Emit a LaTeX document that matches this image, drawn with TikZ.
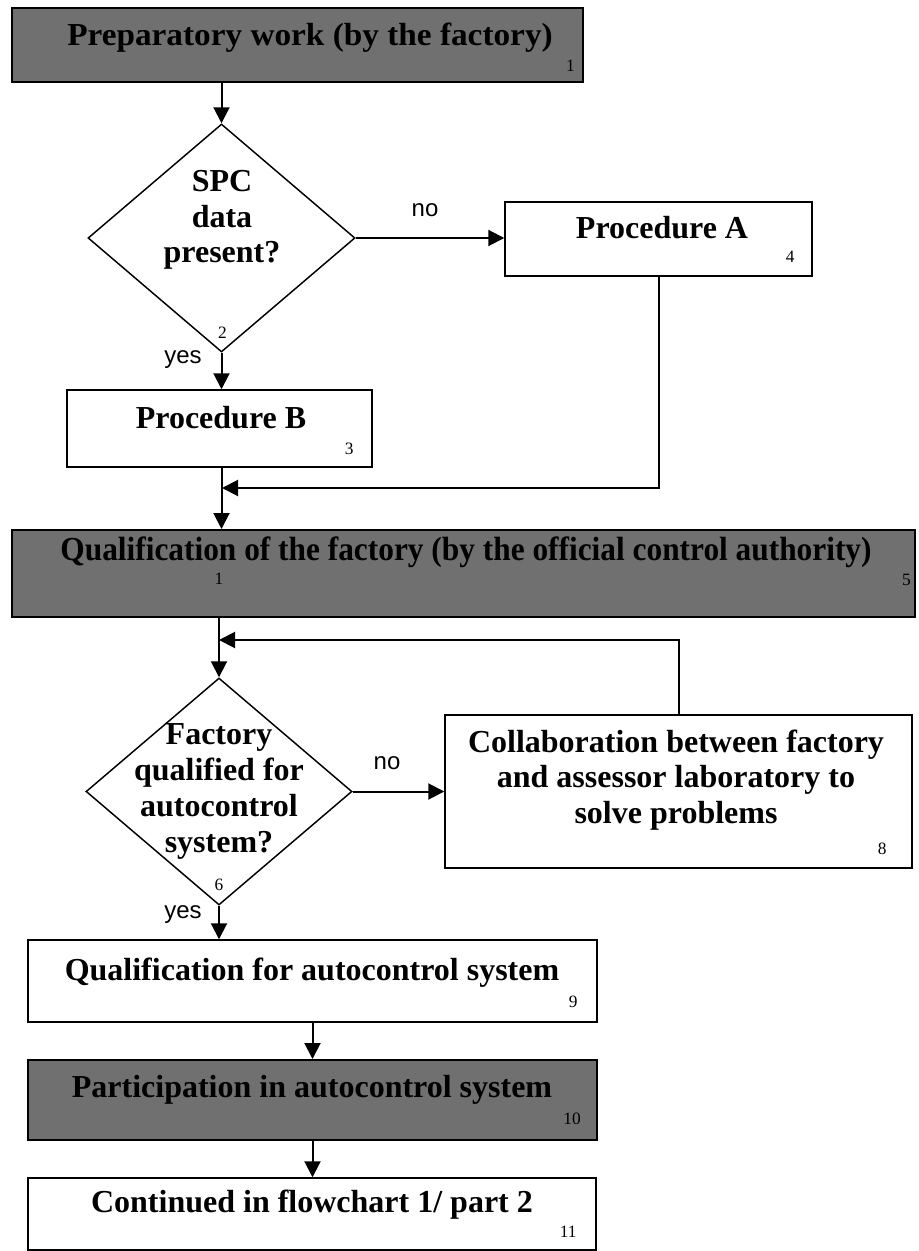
\documentclass[tikz,border=0pt]{standalone}
\usepackage{fontspec}
\setmainfont{Liberation Serif}
\newfontfamily\labelfont{Liberation Sans}
\usetikzlibrary{shapes.geometric,arrows.meta,calc}

\tikzset{
  every picture/.style={x=0.75pt,y=-0.75pt},
  sz/.style 2 args={minimum width=#1*0.75pt,minimum height=#2*0.75pt},
  box/.style={draw=black,line width=1.1pt,fill=white,inner sep=0pt},
  darkbox/.style={box,fill=black!56,line width=1.5pt},
  decision/.style={draw=black,line width=1.1pt,fill=white,diamond,inner sep=0pt},
  maintext/.style={font=\fontsize{24}{26.5}\selectfont\bfseries,align=center,inner sep=0pt},
  num/.style={font=\fontsize{13}{13}\selectfont,inner sep=0pt},
  answer/.style={font=\labelfont\fontsize{18}{18}\selectfont,inner sep=0pt},
  arr/.style={line width=1.5pt,-{Triangle[width=12pt,length=12pt]}}
}

\begin{document}
\begin{tikzpicture}
\useasboundingbox (0,0) rectangle (918,1251);

% ---- shapes
\node[darkbox,sz={571}{74}] (b1) at (297.5,45) {};
\node[maintext] at (310,38) {\scalebox{1.04}[1]{Preparatory work (by the factory)}};
\node[num,anchor=base east] at ($(b1.south east)+(-9,-11)$) {1};

\node[decision,sz={267}{228}] (d2) at (221.5,238) {};
\node[maintext] at (222,220) {SPC\\data\\present?};
\node[num,anchor=base] at ($(d2.south)+(1,-14)$) {2};

\node[box,sz={307}{74}] (pA) at (658.5,239) {};
\node[maintext] at (662,228) {Procedure A};
\node[num,anchor=base east] at ($(pA.south east)+(-18,-14)$) {4};

\node[box,sz={305}{77}] (pB) at (219.5,428.5) {};
\node[maintext] at (221,418) {Procedure B};
\node[num,anchor=base east] at ($(pB.south east)+(-19,-13)$) {3};

\node[darkbox,sz={903}{87}] (b5) at (463.5,573.5) {};
\node[maintext] at (466,552) {\scalebox{0.98}[1.05]{Qualification of the factory (by the official control authority)}};
\node[num,anchor=base] at (219,584) {1};
\node[num,anchor=base east] at ($(b5.south east)+(-5,-33)$) {5};

\node[decision,sz={266}{227}] (d6) at (219,791.5) {};
\node[maintext,font=\fontsize{24}{27}\selectfont\bfseries] at (219,791) {Factory\\qualified for\\autocontrol\\system?};
\node[num,anchor=base] at ($(d6.south)+(0,-15)$) {6};

\node[box,sz={467}{153}] (c8) at (678.5,791.5) {};
\node[maintext] at (676,780) {Collaboration between factory\\and assessor laboratory to\\solve problems};
\node[num,anchor=base east] at ($(c8.south east)+(-26,-14)$) {8};

\node[box,sz={569}{82}] (b9) at (312.5,981) {};
\node[maintext] at (312,973) {Qualification for autocontrol system};
\node[num,anchor=base east] at ($(b9.south east)+(-20,-15)$) {9};

\node[darkbox,sz={569}{80}] (b10) at (312.5,1100) {};
\node[maintext] at (312,1090) {Participation in autocontrol system};
\node[num,anchor=base east] at ($(b10.south east)+(-17,-17)$) {10};

\node[box,sz={568}{72}] (b11) at (312,1214) {};
\node[maintext] at (312,1205) {Continued in flowchart 1/ part 2};
\node[num,anchor=base east] at ($(b11.south east)+(-20,-13)$) {11};

% ---- junction points on the main line
\coordinate (j1) at (222,488);
\coordinate (j2) at (219,640);

% ---- connectors
\draw[arr] (d2.north |- b1.south) -- (d2.north);
\draw[arr] (d2.east) -- (d2.east -| pA.west);
\node[answer] at (425,210) {no};
\draw[arr] (d2.south) -- (d2.south |- pB.north);
\node[answer] at (183,360) {yes};
\draw[arr] (pA.south) |- (j1);
\draw[arr] (d2.south |- pB.south) -- (d2.south |- b5.north);

\draw[arr] (d6.north |- b5.south) -- (d6.north);
\draw[arr] (c8.north) |- (j2);
\draw[arr] (d6.east) -- (d6.east -| c8.west);
\node[answer] at (387,763) {no};
\draw[arr] (d6.south) -- (d6.south |- b9.north);
\node[answer] at (183,915) {yes};

\draw[arr] (b10.north |- b9.south) -- (b10.north);
\draw[arr] (b10.south) -- (b10.south |- b11.north);
\end{tikzpicture}
\end{document}
